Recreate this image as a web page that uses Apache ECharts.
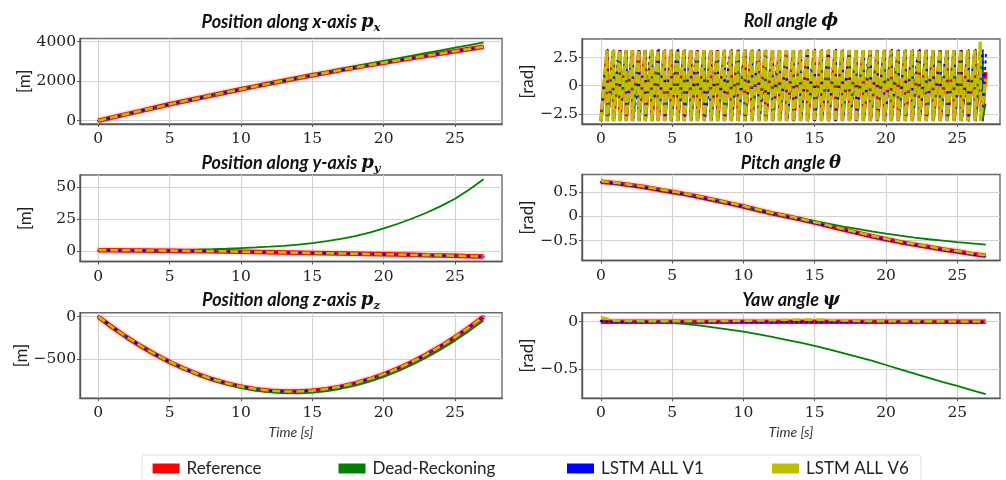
<!DOCTYPE html>
<html>
<head>
<meta charset="utf-8">
<script src="https://cdn.jsdelivr.net/npm/echarts@6/dist/echarts.min.js"></script>
<style>
  html, body { margin: 0; padding: 0; background: #ffffff; }
  #chart { width: 1006px; height: 480px; }
</style>
</head>
<body>
<div id="chart"></div>
<script>
// ---- sample times [s] ----
const timeS = [0,1,2,3,4,5,6,7,8,9,10,11,12,13,14,15,16,17,18,19,20,21,22,23,24,25,26,27];

// ---- position x [m] ----
const pxRef = [0,168,335,500,665,830,985,1140,1292,1442,1590,1736,1880,2022,2162,2298,2432,2563,2692,2817,2937,3055,3172,3288,3403,3517,3631,3745];
const pxDR  = [0,168,335,500,665,830,985,1140,1292,1442,1595,1743,1890,2037,2185,2328,2472,2613,2752,2892,3027,3160,3292,3428,3563,3697,3831,3970];
const pxV1  = [0,167,334,499,664,829,984,1139,1291,1441,1589,1735,1879,2021,2161,2297,2431,2562,2691,2816,2936,3054,3171,3287,3402,3516,3630,3744];
const pxV6  = [2,170,337,502,667,832,987,1142,1294,1444,1592,1738,1882,2024,2164,2300,2434,2565,2694,2819,2939,3058,3175,3291,3406,3520,3634,3748];

// ---- position y [m] ----
const pyRef = [0.5,0.4,0.3,0.2,0.1,0.0,-0.1,-0.2,-0.4,-0.6,-0.8,-1.0,-1.2,-1.4,-1.6,-1.8,-2.0,-2.2,-2.4,-2.6,-2.8,-3.0,-3.2,-3.5,-3.7,-3.9,-4.2,-4.5];
const pyDR  = [0.5,0.5,0.5,0.5,0.5,0.6,0.7,0.9,1.2,1.6,2.1,2.6,3.2,3.9,4.9,6.0,7.6,9.4,11.5,14.3,17.5,21.2,25.3,29.8,35.0,40.8,48.0,56.0];
const pyV1  = [0.3,0.3,0.2,0.2,0.1,0.0,-0.1,-0.3,-0.4,-0.6,-0.8,-1.0,-1.2,-1.4,-1.6,-1.8,-2.0,-2.2,-2.4,-2.6,-2.8,-3.0,-3.3,-3.5,-3.7,-3.9,-4.2,-4.5];
const pyV6  = [0.6,0.5,0.4,0.3,0.2,0.1,0.0,-0.2,-0.3,-0.5,-0.7,-0.9,-1.1,-1.3,-1.5,-1.7,-1.9,-2.1,-2.3,-2.5,-2.7,-2.9,-3.2,-3.4,-3.6,-3.9,-4.1,-4.4];

// ---- position z [m] ----
const pzRef = [0,-127,-243,-350,-448,-535,-613,-681,-740,-788,-827,-857,-876,-886,-886,-876,-857,-827,-788,-740,-681,-613,-535,-448,-350,-243,-127,0];
const pzDR  = [0,-128,-245,-353,-452,-541,-620,-690,-750,-800,-841,-872,-893,-904,-906,-898,-880,-852,-815,-768,-711,-645,-569,-483,-388,-283,-168,-45];
const pzV1  = [0,-126,-242,-349,-447,-534,-612,-680,-739,-787,-826,-856,-875,-885,-885,-875,-856,-826,-787,-739,-680,-612,-534,-447,-349,-242,-126,1];
const pzV6  = [1,-125,-241,-348,-446,-533,-611,-679,-738,-786,-825,-855,-874,-884,-884,-874,-855,-825,-786,-738,-679,-611,-533,-446,-348,-241,-125,2];

// ---- pitch angle [rad] ----
const pitchRef = [0.71,0.68,0.64,0.60,0.55,0.50,0.45,0.39,0.33,0.265,0.20,0.13,0.06,0.00,-0.06,-0.13,-0.20,-0.27,-0.34,-0.41,-0.47,-0.53,-0.58,-0.63,-0.68,-0.72,-0.77,-0.81];
const pitchDR  = [0.71,0.68,0.64,0.60,0.55,0.50,0.45,0.39,0.33,0.265,0.20,0.135,0.07,0.01,-0.045,-0.10,-0.155,-0.21,-0.26,-0.31,-0.355,-0.395,-0.435,-0.47,-0.50,-0.53,-0.555,-0.58];
const pitchV1  = [0.70,0.67,0.63,0.59,0.54,0.49,0.44,0.38,0.32,0.255,0.19,0.12,0.05,-0.01,-0.07,-0.14,-0.21,-0.28,-0.35,-0.42,-0.48,-0.54,-0.59,-0.64,-0.69,-0.73,-0.78,-0.82];
const pitchV6  = [0.72,0.69,0.65,0.61,0.56,0.51,0.46,0.40,0.34,0.275,0.21,0.14,0.07,0.01,-0.05,-0.12,-0.19,-0.26,-0.33,-0.40,-0.46,-0.52,-0.57,-0.62,-0.67,-0.71,-0.76,-0.80];

// ---- yaw angle [rad] ----
const yawRef = [0,0,0,0,0,0,0,0,0,0,0,0,0,0,0,0,0,0,0,0,0,0,0,0,0,0,0,0];
const yawDR  = [0,0,0,-0.002,-0.005,-0.012,-0.025,-0.042,-0.062,-0.083,-0.105,-0.13,-0.16,-0.19,-0.22,-0.255,-0.29,-0.33,-0.37,-0.41,-0.455,-0.50,-0.545,-0.59,-0.635,-0.675,-0.72,-0.76];
const yawV1  = [0.005,-0.003,-0.004,-0.003,-0.005,-0.004,-0.003,-0.005,-0.004,-0.002,-0.003,-0.004,-0.002,-0.001,-0.002,-0.001,-0.003,-0.004,-0.003,-0.005,-0.004,-0.003,-0.005,-0.004,-0.003,-0.004,-0.005,-0.004];
const yawV6  = [0.05,0.01,0.008,0.006,0.005,0.004,0.005,0.006,0.007,0.008,0.010,0.012,0.015,0.020,0.022,0.022,0.018,0.012,0.008,0.006,0.005,0.004,0.004,0.003,0.003,0.002,0.002,0.002];

// ---- roll angle [rad]: wrapped rotation, times [s] where the angle wraps from +pi to -pi ----
const rollWrapRef = [0.00,0.44,0.88,1.32,1.77,2.21,2.66,3.11,3.56,4.01,4.46,4.92,5.38,5.84,6.30,6.77,7.24,7.71,8.18,8.66,9.14,9.62,10.10,10.58,11.07,11.55,12.04,12.53,13.02,13.51,14.00,14.49,14.98,15.47,15.96,16.45,16.94,17.43,17.92,18.41,18.90,19.39,19.88,20.37,20.86,21.35,21.84,22.33,22.82,23.31,23.80,24.29,24.78,25.27,25.76,26.25,26.74];
const rollTailRef = [[27.0, 1.2]];
const rollWrapDR  = [0.00,0.45,0.89,1.33,1.78,2.22,2.67,3.12,3.58,4.03,4.48,4.94,5.40,5.86,6.33,6.80,7.27,7.74,8.21,8.69,9.17,9.65,10.13,10.61,11.10,11.58,12.07,12.56,13.05,13.54,14.03,14.52,15.01,15.50,15.99,16.48,16.97,17.46,17.95,18.44,18.93,19.42,19.91,20.40,20.89,21.38,21.87,22.36,22.85,23.34,23.83,24.32,24.81,25.30,25.79,26.28,26.77];
const rollTailDR  = [[27.0, -1.6]];
const rollWrapV1  = [0.02,0.47,0.91,1.36,1.80,2.25,2.70,3.15,3.60,4.05,4.50,4.96,5.42,5.88,6.34,6.81,7.28,7.75,8.22,8.70,9.18,9.66,10.14,10.62,11.11,11.59,12.08,12.57,13.06,13.55,14.04,14.53,15.02,15.51,16.00,16.49,16.98,17.47,17.96,18.45,18.94,19.43,19.92,20.41,20.90,21.39,21.88,22.37,22.86,23.35,23.84,24.33,24.82,25.31,25.80,26.29,26.78];
const rollMidV1   = [1.2,-0.8,2.1,0.4,1.7,-1.2,0.9,2.3,-0.3,1.5,0.2,1.9,-0.6,1.1,2.0,0.5,-1.0,1.4,0.8,2.2,-0.4,1.6,0.1,1.3,-0.9,0.7,1.8,0.3,-0.5,1.0,0.6,1.7,-0.2,0.9,1.5,0.0,1.2,-0.7,0.8,1.9,0.4,1.1,-0.3,1.6,0.5,0.9,2.0,-0.1,1.3,0.7,1.8,0.2,1.4,-0.6,1.0,1.6];
const rollTailV1  = [[27.02, 3.1]];
const rollWrapV6  = [0.00,0.43,0.87,1.31,1.76,2.20,2.65,3.10,3.55,4.00,4.45,4.91,5.37,5.83,6.29,6.76,7.23,7.70,8.17,8.65,9.13,9.61,10.09,10.57,11.06,11.54,12.03,12.52,13.01,13.50,13.99,14.48,14.97,15.46,15.95,16.44,16.93,17.42,17.91,18.40,18.89,19.38,19.87,20.36,20.85,21.34,21.83,22.32,22.81,23.30,23.79,24.28,24.77,25.26,25.75,26.24];
const rollTailV6  = [[26.62, 3.9], [26.63, -3.14], [27.0, 0.6]];

// ---- tick labels ----
const timeTicks  = [0, 5, 10, 15, 20, 25];
const pxTicks    = [0, 2000, 4000];
const pyTicks    = [0, 25, 50];
const pzTicks    = [-500, 0];
const rollTicks  = [-2.5, 0, 2.5];
const pitchTicks = [-0.5, 0, 0.5];
const yawTicks   = [-0.5, 0];

const seriesNames = ['Reference', 'Dead-Reckoning', 'LSTM ALL V1', 'LSTM ALL V6'];
const seriesColors = ['#ff0000', '#008000', '#0000ff', '#bfbf00'];

// ---------------------------------------------------------------
const PI = 3.14;
function pairs(vals) { return timeS.map((t, i) => [t, vals[i]]); }
function wrapped(wraps, lo, hi, tail, mids) {
  const pts = [];
  for (let i = 0; i < wraps.length; i++) {
    if (i > 0) pts.push([wraps[i], hi]);
    pts.push([wraps[i], lo]);
    if (mids && mids[i] !== undefined && i < wraps.length - 1) {
      pts.push([(wraps[i] + wraps[i + 1]) / 2, mids[i]]);
    }
  }
  tail.forEach(p => pts.push(p));
  return pts;
}

const lineStyles = [
  { color: seriesColors[0], width: 4.5, type: 'solid', shadowColor: 'rgba(255,0,0,0.45)', shadowBlur: 3 },
  { color: seriesColors[1], width: 1.8, type: 'solid' },
  { color: seriesColors[2], width: 2.2, type: [1.5, 3.5], cap: 'round' },
  { color: seriesColors[3], width: 2.6, type: [8, 4] }
];
// the dense roll panel uses slightly lighter strokes
const rollLineStyles = [
  { color: seriesColors[0], width: 3.5, type: 'solid' },
  { color: seriesColors[1], width: 1.6, type: 'solid' },
  { color: seriesColors[2], width: 2.0, type: [1.5, 5], cap: 'round' },
  { color: seriesColors[3], width: 3.4, type: [9, 2.5] }
];

const panels = [
  [pairs(pxRef), pairs(pxDR), pairs(pxV1), pairs(pxV6)],
  [wrapped(rollWrapRef, -PI, PI, rollTailRef), wrapped(rollWrapDR, -PI, PI, rollTailDR),
   wrapped(rollWrapV1, -3.1, 3.2, rollTailV1, rollMidV1), wrapped(rollWrapV6, -PI, PI, rollTailV6)],
  [pairs(pyRef), pairs(pyDR), pairs(pyV1), pairs(pyV6)],
  [pairs(pitchRef), pairs(pitchDR), pairs(pitchV1), pairs(pitchV6)],
  [pairs(pzRef), pairs(pzDR), pairs(pzV1), pairs(pzV6)],
  [pairs(yawRef), pairs(yawDR), pairs(yawV1), pairs(yawV6)]
];

const grids = [
  { left: 80,  top: 38.5,  width: 422, height: 85.5 },
  { left: 582, top: 39,    width: 418, height: 85 },
  { left: 80,  top: 175,   width: 422, height: 86.5 },
  { left: 582, top: 174.5, width: 418, height: 86 },
  { left: 80,  top: 312.7, width: 422, height: 85.6 },
  { left: 582, top: 312.7, width: 418, height: 85.6 }
].map(g => Object.assign(g, { show: true, borderColor: '#6a6a6a', borderWidth: 1.4, containLabel: false }));

const yRanges = [
  [-167, 4162, pxTicks, '[m]'],
  [-3.40, 4.14, rollTicks, '[rad]'],
  [-8.4, 59.4, pyTicks, '[m]'],
  [-0.906, 0.857, pitchTicks, '[rad]'],
  [-965, 47, pzTicks, '[m]'],
  [-0.805, 0.0945, yawTicks, '[rad]']
];

const fmt = v => (v < 0 ? '\u2212' : '') + String(Math.abs(v));
const tickLabelStyle = { color: '#222', fontFamily: 'DejaVu Serif', fontSize: 15.5 };
const axisLineStyle = { color: '#555', width: 1.4 };
const gridLineStyle = { color: '#d2d2d2', width: 1.2 };

const xAxes = grids.map((g, i) => {
  const left = i % 2 === 0;
  const ax = {
    type: 'value', gridIndex: i,
    min: left ? -1.28 : -1.33, max: left ? 28.29 : 28.0,
    axisLine: { show: true, onZero: false, lineStyle: axisLineStyle },
    axisTick: { show: true, length: 3, customValues: timeTicks, lineStyle: { color: '#555' } },
    axisLabel: Object.assign({ customValues: timeTicks, margin: 7, formatter: fmt }, tickLabelStyle),
    splitLine: { show: true, lineStyle: gridLineStyle }
  };
  if (i >= 4) {
    ax.name = 'Time [s]';
    ax.nameLocation = 'middle';
    ax.nameGap = 27;
    ax.nameTextStyle = { fontFamily: 'Lato', fontStyle: 'italic', fontSize: 14, color: '#333' };
  }
  return ax;
});

const yAxes = yRanges.map((r, i) => ({
  type: 'value', gridIndex: i, min: r[0], max: r[1],
  axisLine: { show: true, onZero: false, lineStyle: axisLineStyle },
  axisTick: { show: true, length: 3, customValues: r[2], lineStyle: { color: '#555' } },
  axisLabel: Object.assign({ customValues: r[2], margin: 4, formatter: fmt }, tickLabelStyle),
  splitLine: { show: true, lineStyle: gridLineStyle },
  name: r[3], nameLocation: 'middle', nameGap: 46, nameRotate: 90,
  nameTextStyle: { fontFamily: 'Lato', fontSize: 17, color: '#222' }
}));

const series = [];
panels.forEach((sets, i) => {
  sets.forEach((data, k) => {
    series.push({
      type: 'line', name: seriesNames[k], xAxisIndex: i, yAxisIndex: i,
      data: data, showSymbol: false, symbol: 'none', smooth: false,
      lineStyle: i === 1 ? rollLineStyles[k] : lineStyles[k],
      itemStyle: { color: seriesColors[k] },
      silent: true, animation: false, clip: true
    });
  });
});

// panel titles with math symbols
const titleRich = {
  t: { fontFamily: 'Lato', fontStyle: 'italic', fontWeight: 'bold', fontSize: 18, lineHeight: 24, fill: '#111' },
  p: { fontFamily: 'DejaVu Serif', fontStyle: 'italic', fontWeight: 'bold', fontSize: 18, lineHeight: 24, fill: '#111' },
  s: { fontFamily: 'DejaVu Serif', fontStyle: 'italic', fontWeight: 'bold', fontSize: 11.5, lineHeight: 13, verticalAlign: 'bottom', fill: '#111' }
};
const titles = [
  [291, 22,  '{t|Position along x-axis }{p|p}{s|x}'],
  [791, 21,  '{t|Roll angle }{p|\u03d5}'],
  [291, 163, '{t|Position along y-axis }{p|p}{s|y}'],
  [791, 163, '{t|Pitch angle }{p|\u03b8}'],
  [291, 300, '{t|Position along z-axis }{p|p}{s|z}'],
  [791, 300, '{t|Yaw angle }{p|\u03c8}']
];

const legendX = [152.6, 338.5, 567, 772];
const legends = seriesNames.map((n, k) => ({
  data: [{ name: n, icon: 'rect', itemStyle: { color: seriesColors[k] } }],
  left: legendX[k], top: 460, padding: 0,
  itemWidth: 27, itemHeight: 10, itemGap: 0,
  selectedMode: false,
  textStyle: { fontFamily: 'Lato', fontSize: 17, color: '#222', padding: [0, 0, 0, 2] }
}));

const graphics = titles.map(t => ({
  type: 'text', x: t[0], y: t[1], silent: true,
  style: { text: t[2], rich: titleRich, align: 'center', verticalAlign: 'middle' }
}));
graphics.unshift({
  type: 'rect', silent: true, z: -1,
  shape: { x: 142, y: 455, width: 779, height: 40, r: 3 },
  style: { fill: '#ffffff', stroke: '#dddddd', lineWidth: 1 }
});

const chart = echarts.init(document.getElementById('chart'), null, { renderer: 'canvas' });
chart.setOption({
  backgroundColor: '#ffffff',
  animation: false,
  grid: grids,
  xAxis: xAxes,
  yAxis: yAxes,
  legend: legends,
  series: series,
  graphic: graphics
});
</script>
</body>
</html>
